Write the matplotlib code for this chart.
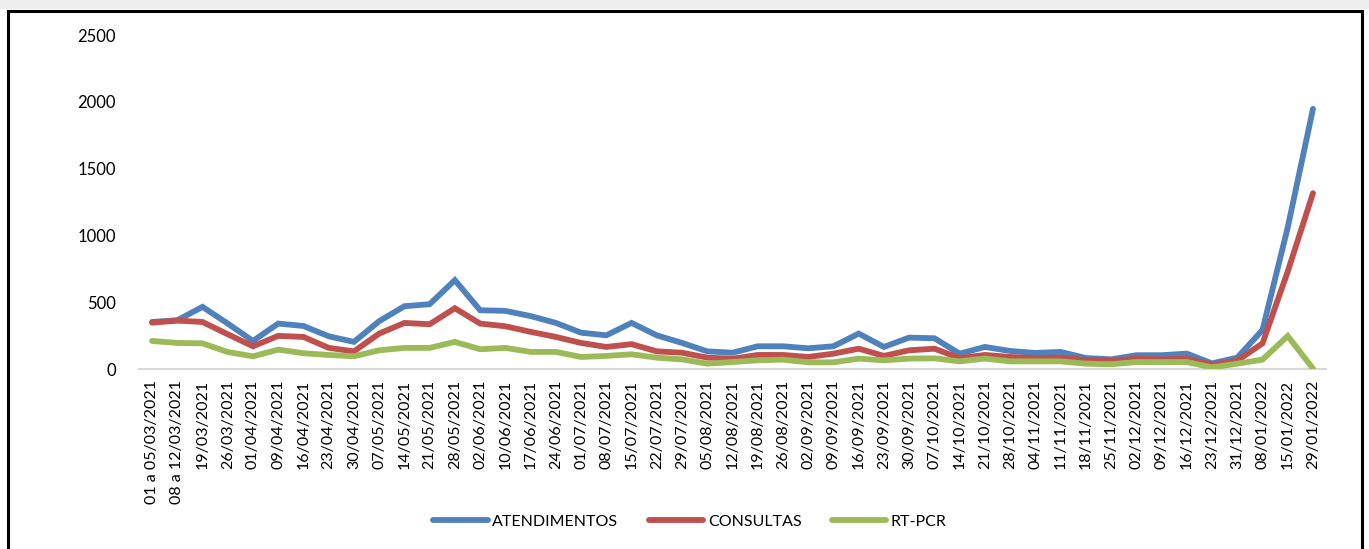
import matplotlib.pyplot as plt
from matplotlib.patches import Rectangle

# ---------- DATA ----------
weeks = [
    "01 a 05/03/2021", "08 a 12/03/2021", "19/03/2021", "26/03/2021", "01/04/2021",
    "09/04/2021", "16/04/2021", "23/04/2021", "30/04/2021", "07/05/2021",
    "14/05/2021", "21/05/2021", "28/05/2021", "02/06/2021", "10/06/2021",
    "17/06/2021", "24/06/2021", "01/07/2021", "08/07/2021", "15/07/2021",
    "22/07/2021", "29/07/2021", "05/08/2021", "12/08/2021", "19/08/2021",
    "26/08/2021", "02/09/2021", "09/09/2021", "16/09/2021", "23/09/2021",
    "30/09/2021", "07/10/2021", "14/10/2021", "21/10/2021", "28/10/2021",
    "04/11/2021", "11/11/2021", "18/11/2021", "25/11/2021", "02/12/2021",
    "09/12/2021", "16/12/2021", "23/12/2021", "31/12/2021", "08/01/2022",
    "15/01/2022", "29/01/2022",
]

atendimentos = [
    352, 365, 465, 340, 210, 340, 322, 245, 203, 358,
    470, 485, 665, 440, 435, 396, 345, 272, 252, 345,
    252, 195, 132, 122, 170, 170, 155, 170, 265, 165,
    235, 230, 115, 165, 135, 120, 128, 82, 72, 103,
    103, 115, 42, 85, 292, 1060, 1947,
]
consultas = [
    347, 362, 352, 260, 170, 248, 240, 158, 132, 265,
    345, 335, 455, 340, 320, 278, 240, 195, 165, 186,
    132, 122, 85, 77, 105, 105, 90, 115, 152, 98,
    140, 152, 82, 105, 90, 82, 85, 67, 62, 77,
    72, 77, 32, 62, 192, 730, 1316,
]
rt_pcr = [
    210, 195, 192, 127, 95, 145, 118, 105, 95, 140,
    158, 158, 203, 148, 158, 128, 128, 90, 98, 110,
    85, 72, 40, 52, 65, 70, 50, 50, 78, 65,
    78, 80, 57, 78, 57, 57, 57, 40, 35, 52,
    52, 52, 12, 40, 70, 247, 3,
]

series = [
    ("ATENDIMENTOS", atendimentos, "#4F81BD"),
    ("CONSULTAS", consultas, "#C0504D"),
    ("RT-PCR", rt_pcr, "#9BBB59"),
]

plt.rcParams["font.family"] = ["Lato", "DejaVu Sans"]

W, H = 1369, 549
fig = plt.figure(figsize=(W / 100, H / 100), dpi=100)

# grey strip + chart frame like the pasted screenshot
fig.patches.append(Rectangle((0, 1 - 9 / H), 1, 9 / H, transform=fig.transFigure,
                             facecolor="#EEEEEE", edgecolor="none", zorder=0))
fig.patches.append(Rectangle((8 / W, -0.01), (1362 - 8) / W, (1 - 11 / H) + 0.01,
                             transform=fig.transFigure, facecolor="none",
                             edgecolor="black", linewidth=2.2, zorder=5))

ax = fig.add_axes([139.4 / W, 1 - 369 / H, (1325.6 - 139.4) / W, (369 - 35) / H])

x = range(len(weeks))
for name, vals, col in series:
    ax.plot(x, vals, color=col, linewidth=4.2, label=name,
            solid_capstyle="round", solid_joinstyle="miter")

ax.set_xlim(-0.5, len(weeks) - 0.5)
ax.set_ylim(0, 2500)
ax.set_yticks(range(0, 2501, 500))
ax.set_xticks(list(x))
ax.set_xticklabels(weeks, rotation=90, fontsize=11.5)
ax.tick_params(axis="y", labelsize=12, length=0, pad=17)
ax.tick_params(axis="x", length=0, pad=8)

for s in ["top", "right", "left"]:
    ax.spines[s].set_visible(False)
ax.spines["bottom"].set_color("#D9D9D9")
ax.spines["bottom"].set_linewidth(1.5)
ax.spines["bottom"].set_zorder(0)

fig.legend(loc="center", bbox_to_anchor=(690 / W, 1 - 522 / H), ncol=3,
           frameon=False, fontsize=11.5, handlelength=3.4, handletextpad=0.3,
           columnspacing=1.9)

fig.savefig("out.png", dpi=100)
